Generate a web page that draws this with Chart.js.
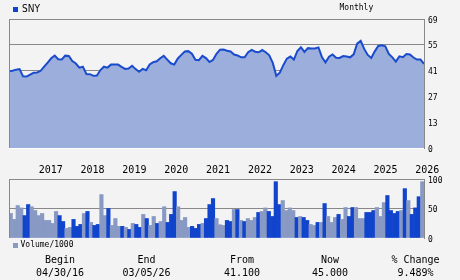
<!DOCTYPE html>
<html><head><meta charset="utf-8">
<script src="https://cdn.jsdelivr.net/npm/chart.js@4"></script>
<style>
html,body{margin:0;padding:0;background:#f3f3f3;}
#wrap{position:relative;width:460px;height:280px;overflow:hidden;background:#f3f3f3;}
canvas{position:absolute;left:0;}
.t{position:absolute;font-family:"DejaVu Sans Mono",monospace;color:#000;white-space:nowrap;}
.sq{position:absolute;width:5px;height:5px;}
.c{text-align:center;width:100px;font-size:10px;line-height:10px;}
</style></head>
<body><div id="wrap">
<canvas id="pc" width="460" height="160" style="top:0"></canvas>
<canvas id="vc" width="460" height="130" style="top:150px"></canvas>
<div class="sq" style="left:13px;top:7px;background:#1144cc"></div>
<div class="t" style="left:22px;top:4px;font-family:'DejaVu Sans Condensed','DejaVu Sans',sans-serif;font-stretch:condensed;font-size:10px;line-height:10px">SNY</div>
<div class="t" style="left:339.5px;top:4.3px;font-size:8px;line-height:8px">Monthly</div>
<div class="sq" style="left:13px;top:243px;background:#8899c4"></div>
<div class="t" style="left:20.5px;top:240.5px;font-size:8px;line-height:8px">Volume/1000</div>
<div id="stats"></div>
</div>
<script>
const firstMonth = {year: 2016, month: 5};
const price = [41.1, 41.3, 41.9, 42.2, 38.3, 38.2, 39.3, 40.2, 40.4, 41.3,
  43.5, 45.7, 48.0, 49.4, 47.5, 47.4, 49.4, 49.2, 46.5, 45.2,
  43.0, 43.5, 39.6, 39.5, 38.6, 38.7, 41.7, 43.5, 43.0, 44.6,
  44.6, 44.6, 43.4, 42.3, 42.5, 44.0, 42.2, 40.8, 42.3, 41.6,
  44.7, 45.9, 46.4, 48.0, 49.3, 47.3, 45.3, 44.6, 47.9, 49.8,
  51.6, 51.8, 50.4, 47.2, 47.0, 49.3, 48.1, 46.0, 47.1, 50.4,
  52.6, 52.7, 52.0, 51.6, 50.0, 49.5, 48.5, 48.5, 51.2, 52.5,
  51.5, 51.2, 52.4, 51.2, 49.6, 45.5, 38.6, 40.3, 44.3, 47.8,
  48.9, 47.3, 51.9, 53.9, 51.4, 53.4, 53.2, 53.2, 53.8, 48.5,
  45.8, 48.8, 50.0, 48.3, 48.2, 49.2, 48.9, 48.5, 50.1, 55.8,
  57.3, 53.0, 49.8, 48.2, 51.7, 54.6, 55.0, 54.4, 50.3, 48.5,
  46.2, 49.0, 48.6, 50.3, 50.0, 48.4, 47.3, 47.3, 45.0];
const volume = [41.6, 31.5, 55, 51, 38, 56.7, 53, 46.6, 38, 41.6,
  29.8, 29.8, 24.7, 45, 38, 28, 16.3, 18, 31.5, 19.7,
  23, 41.6, 45, 26.4, 21.3, 23, 73.6, 38, 50, 21.3,
  33, 19.7, 19.7, 18, 14.6, 24.7, 23, 18, 40, 33,
  21.3, 36.5, 24.7, 28, 53, 26.4, 40, 78.7, 53, 29.8,
  34.8, 18, 19.7, 16.3, 23, 24.7, 33, 56.7, 66.9, 33,
  22.5, 21.3, 29.8, 28, 48.3, 48.3, 29.8, 28, 33, 29.8,
  34.8, 43.3, 45, 51, 45, 36.5, 95.5, 56.7, 63.5, 46.6,
  51, 46.6, 34.8, 36.5, 34.8, 29.8, 23, 21.3, 26.4, 26.4,
  58.4, 36.5, 26.4, 34.8, 40, 31.5, 51.7, 36.5, 51.7, 51.7,
  33, 33, 43.3, 43.3, 46.6, 51.7, 36.5, 60, 72, 46.6,
  41.6, 45, 46.6, 83.7, 63.5, 40, 51, 70, 95.5];
// month direction: u = up month, d = down month
const direction = [
 'u','u','u','u','d','d','u','u','u','u',
 'u','u','u','u','d','d','u','u','d','d',
 'd','u','d','u','d','d','u','u','d','u',
 'u','u','d','u','d','u','d','d','u','d',
 'u','u','d','u','u','d','d','d','u','u',
 'u','u','d','d','d','u','d','d','d','u',
 'u','u','d','d','u','d','u','d','u','u',
 'u','d','u','u','d','d','d','d','u','u',
 'u','u','d','u','d','d','u','u','d','u',
 'd','u','u','u','d','u','u','d','d','u',
 'u','u','d','d','d','u','u','u','d','d',
 'd','d','u','d','u','d','d','d','u'];
const priceTicks = ['0', '13', '27', '41', '55', '69'];
const priceMax = 69;
const volumeTicks = ['0', '50', '100'];
const volumeMax = 100;
const yearLabels = ['2017','2018','2019','2020','2021','2022','2023','2024','2025','2026'];
const statLabels = ['Begin', 'End', 'From', 'Now', '% Change'];
const statValues = ['04/30/16', '03/05/26', '41.100', '45.000', '9.489%'];

const BLUE = '#1144cc', GRAY = '#8899c4', FRAME = '#888888';
const months = price.map((_, i) => {
  const m = firstMonth.month - 1 + i;
  return (firstMonth.year + Math.floor(m / 12)) + '-' + String(m % 12 + 1).padStart(2, '0');
});
const monoFont = {family: "'DejaVu Sans Mono', monospace", size: 8};
const frame = {id: 'frame', afterDatasetsDraw(c) {
  const {ctx, chartArea: a} = c;
  ctx.save(); ctx.fillStyle = FRAME;
  ctx.fillRect(Math.round(a.left), Math.round(a.top), 1, Math.round(a.bottom - a.top));
  ctx.restore();
}};

new Chart(document.getElementById('pc'), {
  type: 'line',
  data: {datasets: [{
    data: price.map((v, i) => ({x: i, y: v})),
    borderColor: '#1a4bcc', borderWidth: 2, backgroundColor: '#9cafdc',
    fill: 'origin', pointRadius: 0, tension: 0
  }]},
  options: {
    responsive: false, animation: false, events: [],
    layout: {padding: {left: 9, top: 19, right: 0, bottom: 12}},
    plugins: {legend: {display: false}, tooltip: {enabled: false}},
    scales: {
      x: {type: 'linear', display: false, min: 0, max: price.length - 1},
      y: {
        position: 'right', min: 0, max: priceMax,
        afterFit(s) { s.width = 36; },
        afterBuildTicks(s) { s.ticks = priceTicks.map((_, i) => ({value: i * priceMax / (priceTicks.length - 1)})); },
        ticks: {callback: (v, i) => priceTicks[i], padding: 4, labelOffset: 1.5, font: monoFont, color: '#000'},
        grid: {color: c => (c.tick && c.tick.value === 0) ? '#ffffff' : FRAME, drawTicks: false},
        border: {display: true, color: FRAME}
      }
    }
  },
  plugins: [frame]
});

new Chart(document.getElementById('vc'), {
  type: 'bar',
  data: {labels: months, datasets: [{
    data: volume,
    backgroundColor: direction.map(d => d === 'd' ? BLUE : GRAY),
    barPercentage: 1, categoryPercentage: 1, borderWidth: 0
  }]},
  options: {
    responsive: false, animation: false, events: [],
    layout: {padding: {left: 9, top: 0, right: 0, bottom: 42}},
    plugins: {legend: {display: false}, tooltip: {enabled: false}},
    scales: {
      x: {
        position: 'top',
        grid: {display: false, drawTicks: false}, border: {display: false},
        afterFit(s) { s.height = 29; },
        ticks: {
          autoSkip: false, maxRotation: 0, minRotation: 0, align: 'start', padding: 3,
          font: {family: "'DejaVu Sans Mono', monospace", size: 10}, color: '#000',
          callback: (v, i) => {
            const [y, m] = months[i].split('-');
            return (m === '01' && yearLabels.includes(y)) ? y : '';
          }
        }
      },
      y: {
        position: 'right', min: 0, max: volumeMax,
        afterFit(s) { s.width = 36; },
        afterBuildTicks(s) { s.ticks = volumeTicks.map(t => ({value: +t})); },
        ticks: {callback: (v, i) => volumeTicks[i], padding: 4, labelOffset: 1.5, font: monoFont, color: '#000'},
        grid: {color: c => (c.tick && c.tick.value === 0) ? 'rgba(0,0,0,0)' : FRAME, drawTicks: false},
        border: {display: true, color: FRAME}
      }
    }
  },
  plugins: [frame]
});

const centers = [60, 146.5, 242, 330, 415.5];
const st = document.getElementById('stats');
statLabels.forEach((l, i) => {
  const a = document.createElement('div');
  a.className = 't c'; a.style.left = (centers[i] - 50) + 'px'; a.style.top = '254.8px'; a.textContent = l;
  st.appendChild(a);
  const b = document.createElement('div');
  b.className = 't c'; b.style.left = (centers[i] - 50) + 'px'; b.style.top = '268.4px'; b.textContent = statValues[i];
  st.appendChild(b);
});
</script>
</body></html>
